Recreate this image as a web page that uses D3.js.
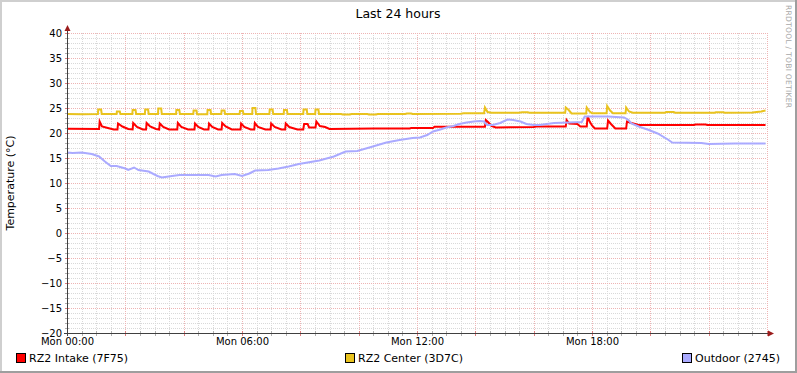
<!DOCTYPE html>
<html>
<head>
<meta charset="UTF-8">
<title>Last 24 hours</title>
<script src="https://d3js.org/d3.v7.min.js"></script>
<style>
  body { margin: 0; background: #fff; }
  svg { display: block; font-family: "DejaVu Sans", sans-serif; }
</style>
</head>
<body>
<svg width="797" height="373"></svg>
<script>
// y axis labels and x axis labels
const yTicks = [-20, -15, -10, -5, 0, 5, 10, 15, 20, 25, 30, 35, 40];
const xLabelHours = [0, 6, 12, 18];
const xLabels = ["Mon 00:00", "Mon 06:00", "Mon 12:00", "Mon 18:00"];

const legendNames = ["RZ2 Intake (7F75)", "RZ2 Center (3D7C)", "Outdoor (2745)"];
const seriesColors = ["#ff0000", "#e9c31e", "#aaaaff"];

// [hour, temperature]
const intakeData = [
  [0, 20.85], [1.1, 20.8], [1.12, 22.3], [1.2, 21.3], [1.4, 21.0], [1.6, 20.7],
  [1.73, 20.7], [1.75, 21.9], [1.9, 21.3], [2.1, 20.8],
  [2.25, 20.7], [2.27, 22.0], [2.4, 21.2], [2.6, 20.7],
  [2.71, 20.7], [2.73, 22.0], [2.85, 21.3], [3.05, 20.8],
  [3.16, 20.7], [3.18, 21.9], [3.3, 21.2], [3.5, 20.7],
  [3.78, 20.7], [3.80, 22.0], [3.92, 21.2], [4.15, 20.7],
  [4.37, 20.7], [4.39, 21.9], [4.5, 21.2], [4.7, 20.7],
  [4.85, 20.7], [4.87, 21.9], [4.98, 21.2], [5.18, 20.7],
  [5.30, 20.7], [5.32, 22.0], [5.44, 21.3], [5.65, 20.7],
  [5.95, 20.7], [5.97, 21.9], [6.08, 21.2], [6.3, 20.7],
  [6.42, 20.7], [6.44, 22.0], [6.55, 21.2], [6.8, 20.7],
  [6.98, 20.7], [7.0, 21.9], [7.12, 21.2], [7.35, 20.7],
  [7.48, 20.7], [7.5, 21.9], [7.62, 21.2], [7.9, 20.7],
  [8.1, 20.7], [8.13, 21.8], [8.25, 21.8], [8.3, 21.1], [8.52, 21.1],
  [8.55, 22.3], [8.67, 21.4], [8.85, 21.2], [9.0, 20.8],
  [10.5, 20.9], [11.75, 20.9], [11.8, 21.0], [12.55, 21.0], [12.6, 21.25],
  [14.33, 21.25], [14.36, 22.6], [14.45, 22.1], [14.55, 21.4], [14.7, 21.1],
  [16.0, 21.2], [16.1, 21.3], [17.1, 21.3], [17.13, 22.6], [17.22, 21.9],
  [17.5, 21.8], [17.6, 21.3], [17.82, 21.3], [17.85, 23.4], [17.92, 22.3],
  [18.0, 21.5], [18.1, 20.9], [18.52, 20.9], [18.55, 22.5], [18.65, 21.8],
  [18.8, 20.9], [19.17, 20.9], [19.2, 22.3], [19.35, 22.0], [19.6, 21.6],
  [21.5, 21.6], [21.55, 21.7], [21.9, 21.7], [21.95, 21.6], [23.95, 21.6]
];

const centerData = [
  [0, 23.8], [0.5, 23.75], [1.06, 23.8], [1.07, 24.7], [1.17, 24.7], [1.19, 23.8],
  [1.7, 23.8], [1.71, 24.3], [1.81, 24.3], [1.83, 23.8],
  [2.24, 23.8], [2.25, 24.6], [2.35, 24.6], [2.37, 23.8],
  [2.67, 23.8], [2.68, 24.7], [2.78, 24.7], [2.8, 23.8],
  [3.12, 23.8], [3.13, 24.9], [3.23, 24.9], [3.25, 23.8],
  [3.74, 23.8], [3.75, 24.6], [3.85, 24.6], [3.87, 23.8],
  [4.33, 23.8], [4.34, 24.5], [4.44, 24.5], [4.46, 23.75],
  [4.81, 23.75], [4.82, 24.6], [4.92, 24.6], [4.94, 23.8],
  [5.29, 23.8], [5.3, 24.5], [5.4, 24.5], [5.42, 23.8],
  [5.92, 23.8], [5.93, 24.4], [6.03, 24.4], [6.05, 23.8],
  [6.35, 23.8], [6.36, 25.0], [6.46, 25.0], [6.48, 23.8],
  [6.94, 23.8], [6.95, 24.7], [7.05, 24.7], [7.07, 23.8],
  [7.43, 23.8], [7.44, 24.6], [7.54, 24.6], [7.56, 23.8],
  [8.1, 23.8], [8.11, 24.7], [8.22, 24.7], [8.24, 23.8],
  [8.51, 23.8], [8.52, 24.7], [8.62, 24.7], [8.64, 23.8],
  [9.4, 23.8], [9.45, 23.7], [9.7, 23.7], [9.75, 23.8], [10.3, 23.8],
  [10.35, 23.7], [10.6, 23.7], [10.65, 23.8], [11.6, 23.8], [11.65, 23.9],
  [11.8, 23.9], [11.85, 23.8], [13.5, 23.85], [13.6, 23.95], [14.3, 23.95],
  [14.33, 25.1], [14.42, 24.2], [14.55, 24.05], [15.5, 24.05], [15.6, 24.15],
  [15.8, 24.15], [15.85, 24.05], [17.08, 24.05], [17.1, 25.1], [17.2, 24.6],
  [17.3, 23.9], [17.8, 23.9], [17.82, 25.1], [17.92, 24.3], [18.0, 23.95],
  [18.5, 23.95], [18.52, 25.4], [18.62, 24.5], [18.72, 23.95], [19.15, 23.95],
  [19.17, 25.1], [19.27, 24.3], [19.4, 24.05], [20.5, 24.05], [20.55, 24.2],
  [20.8, 24.2], [20.85, 24.05], [22.2, 24.05], [22.25, 24.15], [22.5, 24.15],
  [22.55, 24.05], [23.5, 24.1], [23.8, 24.3], [23.95, 24.5]
];

const outdoorData = [
  [0, 16.1], [0.2, 16.0], [0.5, 16.1], [0.85, 15.8], [1.1, 15.3], [1.3, 14.3],
  [1.5, 13.4], [1.7, 13.4], [2.0, 12.9], [2.1, 12.6], [2.3, 13.1], [2.45, 12.6],
  [2.8, 12.3], [3.1, 11.4], [3.25, 11.1], [3.6, 11.4], [3.85, 11.6], [4.4, 11.6],
  [4.85, 11.6], [5.1, 11.3], [5.3, 11.6], [5.75, 11.8], [6.0, 11.4], [6.25, 11.9],
  [6.45, 12.5], [6.9, 12.6], [7.25, 12.9], [7.6, 13.3], [7.95, 13.8], [8.65, 14.5],
  [9.15, 15.3], [9.55, 16.3], [9.95, 16.4], [10.25, 16.9], [10.95, 18.1],
  [11.4, 18.6], [11.85, 19.0], [12.1, 19.1], [12.35, 19.6], [12.55, 20.3],
  [12.8, 20.7], [13.0, 21.1], [13.25, 21.4], [13.45, 21.8], [13.7, 22.1],
  [13.95, 22.3], [14.15, 22.4], [14.3, 22.3], [14.4, 21.6], [14.6, 21.6],
  [14.85, 22.0], [15.1, 22.7], [15.3, 22.6], [15.55, 22.3], [15.75, 21.8],
  [16.0, 21.6], [16.2, 21.6], [16.7, 22.0], [17.2, 22.1], [17.65, 22.2],
  [17.75, 23.3], [18.55, 23.3], [19.1, 23.1], [19.25, 22.6], [19.35, 21.9],
  [19.6, 21.3], [19.95, 20.6], [20.25, 19.9], [20.6, 18.7], [20.75, 18.1],
  [21.75, 18.0], [22.0, 17.8], [22.9, 17.9], [23.95, 17.9]
];

const svg = d3.select("svg");
const W = 797, H = 373;

// frame (rrdtool style shading)
svg.append("rect").attr("width", W).attr("height", H).attr("fill", "#ffffff");
svg.append("path").attr("d", `M0,0H${W}V2H2V${H}H0Z`).attr("fill", "#cfcfcf");
svg.append("path").attr("d", `M${W},${H}H0V${H - 2}H${W - 2}V0H${W}Z`).attr("fill", "#9e9e9e");

const x = d3.scaleLinear().domain([0, 24]).range([67, 767]);
const y = d3.scaleLinear().domain([-20, 40]).range([333, 33]);

const grid = svg.append("g").attr("shape-rendering", "crispEdges");

// minor grid: every 30 min / every degree
const minorX = d3.range(0.5, 24.01, 0.5).filter(h => h % 2 !== 0);
const minorY = d3.range(-19, 41, 1).filter(v => v % 5 !== 0);
const majorX = d3.range(2, 24.01, 2);
const majorY = yTicks.filter(v => v !== -20);
const minorCol = "#d9d9d9", majorCol = "#eeb4b4";

grid.selectAll(".vmin").data(minorX).enter().append("line")
  .attr("x1", d => Math.round(x(d)) + 0.5).attr("x2", d => Math.round(x(d)) + 0.5)
  .attr("y1", y(40)).attr("y2", y(-20))
  .attr("stroke", minorCol).attr("stroke-dasharray", "1,1");
grid.selectAll(".hmin").data(minorY).enter().append("line")
  .attr("x1", x(0)).attr("x2", x(24))
  .attr("y1", d => y(d) + 0.5).attr("y2", d => y(d) + 0.5)
  .attr("stroke", minorCol).attr("stroke-dasharray", "1,1");
grid.selectAll(".vmaj").data(majorX).enter().append("line")
  .attr("x1", d => Math.round(x(d)) + 0.5).attr("x2", d => Math.round(x(d)) + 0.5)
  .attr("y1", y(40)).attr("y2", y(-20))
  .attr("stroke", majorCol).attr("stroke-dasharray", "1,1");
grid.selectAll(".hmaj").data(majorY).enter().append("line")
  .attr("x1", x(0)).attr("x2", x(24))
  .attr("y1", d => y(d) + 0.5).attr("y2", d => y(d) + 0.5)
  .attr("stroke", majorCol).attr("stroke-dasharray", "1,1");

// small ticks on the axes
grid.selectAll(".ytk").data(minorY.concat(majorY)).enter().append("line")
  .attr("x1", x(0) - 2).attr("x2", x(0) + 2)
  .attr("y1", d => y(d) + 0.5).attr("y2", d => y(d) + 0.5)
  .attr("stroke", d => d % 5 === 0 ? "#e08080" : "#b0b0b0");
grid.selectAll(".xtk").data(minorX.concat(majorX)).enter().append("line")
  .attr("x1", d => Math.round(x(d)) + 0.5).attr("x2", d => Math.round(x(d)) + 0.5)
  .attr("y1", y(-20) - 2).attr("y2", y(-20) + 3)
  .attr("stroke", d => d % 2 === 0 ? "#e08080" : "#b0b0b0");

// data lines
const line = d3.line().x(d => x(d[0])).y(d => y(d[1]));
[intakeData, centerData, outdoorData].forEach((s, i) => {
  svg.append("path").datum(s)
    .attr("d", line)
    .attr("fill", "none")
    .attr("stroke", seriesColors[i])
    .attr("stroke-width", 2)
    .attr("stroke-linejoin", "miter");
});

// axes lines + arrows
const axis = svg.append("g").attr("shape-rendering", "crispEdges");
axis.append("line").attr("x1", x(0) + 0.5).attr("x2", x(0) + 0.5)
  .attr("y1", y(-20) + 3).attr("y2", 29).attr("stroke", "#404040");
axis.append("line").attr("x1", x(0) - 3).attr("x2", 770)
  .attr("y1", y(-20) + 0.5).attr("y2", y(-20) + 0.5).attr("stroke", "#404040");
svg.append("path").attr("d", `M${x(0) - 2.5},31L${x(0) + 0.5},25L${x(0) + 3.5},31Z`).attr("fill", "#9b1c1c");
svg.append("path").attr("d", `M768,${y(-20) - 2.5}L774,${y(-20) + 0.5}L768,${y(-20) + 3.5}Z`).attr("fill", "#9b1c1c");

// y tick labels
const yAxis = svg.append("g")
  .attr("transform", `translate(${x(0) - 5},0)`)
  .call(d3.axisLeft(y).tickValues(yTicks).tickSize(0).tickPadding(0));
yAxis.select(".domain").remove();
yAxis.selectAll("text").attr("font-size", "10px").attr("font-family", "DejaVu Sans").attr("fill", "#000");

// x tick labels
const xAxis = svg.append("g")
  .attr("transform", `translate(0,${y(-20) + 5})`)
  .call(d3.axisBottom(x).tickValues(xLabelHours).tickFormat((d, i) => xLabels[i]).tickSize(0).tickPadding(0));
xAxis.select(".domain").remove();
xAxis.selectAll("text").attr("font-size", "10px").attr("font-family", "DejaVu Sans").attr("fill", "#000");

// title
svg.append("text").attr("x", 398).attr("y", 18).attr("text-anchor", "middle")
  .attr("font-size", "12.5px").attr("fill", "#000").text("Last 24 hours");

// vertical unit label
svg.append("text").attr("transform", "translate(14,183) rotate(-90)")
  .attr("text-anchor", "middle").attr("font-size", "11px").attr("fill", "#000")
  .text("Temperature (°C)");

// watermark
svg.append("text").attr("transform", "translate(786,5) rotate(90)")
  .attr("font-size", "7.6px").attr("fill", "#a8a8a8")
  .attr("textLength", 103).attr("lengthAdjust", "spacing")
  .text("RRDTOOL / TOBI OETIKER");

// legend
const legendX = [16, 345, 682];
const lg = svg.append("g");
legendNames.forEach((name, i) => {
  lg.append("rect").attr("x", legendX[i] + 0.5).attr("y", 353.5).attr("width", 9).attr("height", 9)
    .attr("fill", seriesColors[i]).attr("stroke", "#000").attr("stroke-width", 1);
  lg.append("text").attr("x", legendX[i] + 13).attr("y", 362)
    .attr("font-size", "11px").attr("fill", "#000").text(name);
});
</script>
</body>
</html>
